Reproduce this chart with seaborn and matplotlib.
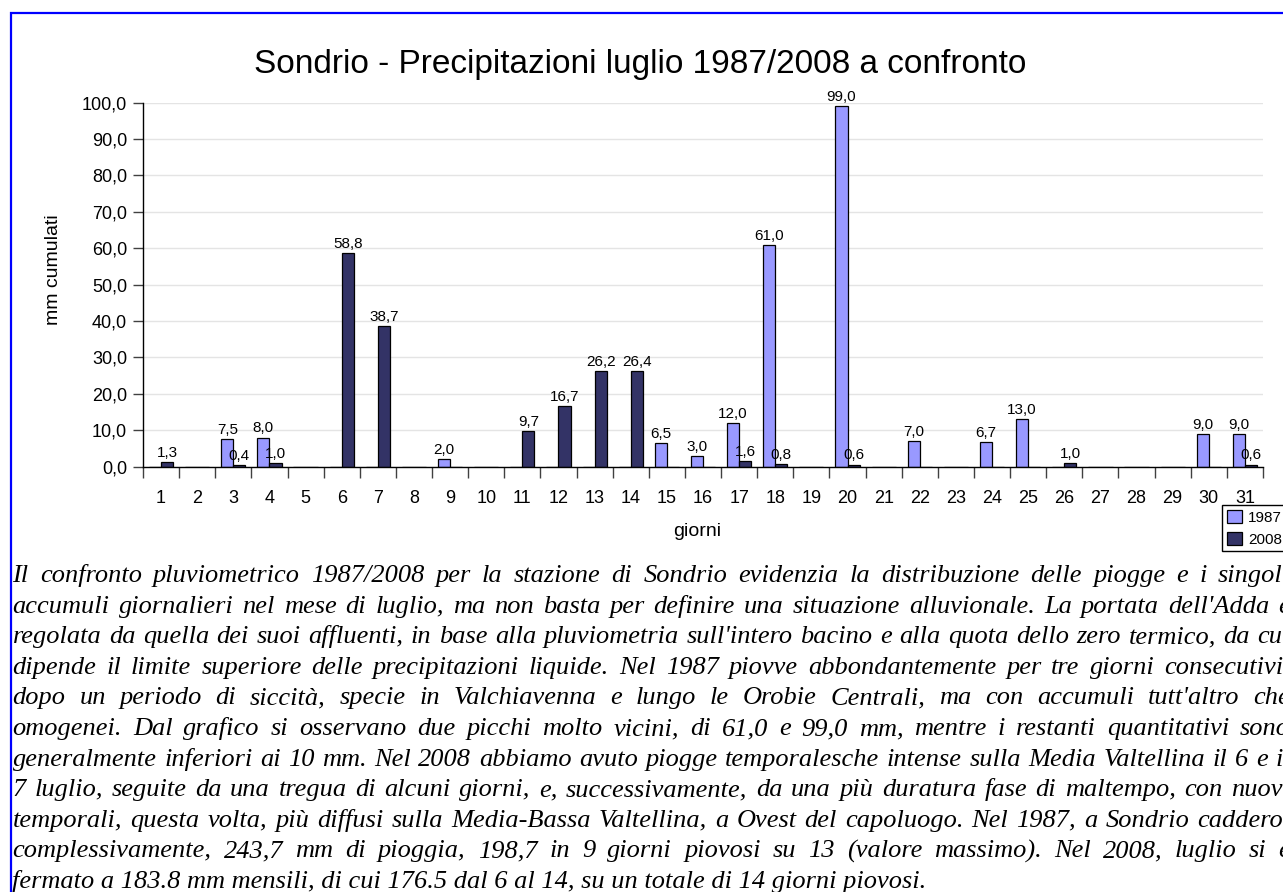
import numpy as np
import pandas as pd
import matplotlib
matplotlib.use('Agg')
import matplotlib.pyplot as plt
import seaborn as sns
from matplotlib.patches import Rectangle, Patch
from matplotlib.ticker import FixedLocator, FuncFormatter

# ---------------- data ----------------
days = list(range(1, 32))
mm_1987 = [0, 0, 7.5, 8.0, 0, 0, 0, 0, 2.0, 0, 0, 0, 0, 0, 6.5, 3.0, 12.0, 61.0, 0, 99.0,
           0, 7.0, 0, 6.7, 13.0, 0, 0, 0, 0, 9.0, 9.0]
mm_2008 = [1.3, 0, 0.4, 1.0, 0, 58.8, 38.7, 0, 0, 0, 9.7, 16.7, 26.2, 26.4, 0, 0, 1.6, 0.8, 0, 0.6,
           0, 0, 0, 0, 0, 1.0, 0, 0, 0, 0, 0.6]
years = ['1987', '2008']
y_ticks = list(range(0, 101, 10))
title = "Sondrio - Precipitazioni luglio 1987/2008 a confronto"
x_label = "giorni"
y_label = "mm cumulati"
paragraph_lines = [
    "Il confronto pluviometrico 1987/2008 per la stazione di Sondrio evidenzia la distribuzione delle piogge e i singoli",
    "accumuli giornalieri nel mese di luglio, ma non basta per definire una situazione alluvionale. La portata dell'Adda è",
    "regolata da quella dei suoi affluenti, in base alla pluviometria sull'intero bacino e alla quota dello zero termico, da cui",
    "dipende il limite superiore delle precipitazioni liquide. Nel 1987 piovve abbondantemente per tre giorni consecutivi,",
    "dopo un periodo di siccità, specie in Valchiavenna e lungo le Orobie Centrali, ma con accumuli tutt'altro che",
    "omogenei. Dal grafico si osservano due picchi molto vicini, di 61,0 e 99,0 mm, mentre i restanti quantitativi sono",
    "generalmente inferiori ai 10 mm. Nel 2008 abbiamo avuto piogge temporalesche intense sulla Media Valtellina il 6 e il",
    "7 luglio, seguite da una tregua di alcuni giorni, e, successivamente, da una più duratura fase di maltempo, con nuovi",
    "temporali, questa volta, più diffusi sulla Media-Bassa Valtellina, a Ovest del capoluogo. Nel 1987, a Sondrio caddero,",
    "complessivamente, 243,7 mm di pioggia, 198,7 in 9 giorni piovosi su 13 (valore massimo). Nel 2008, luglio si è",
    "fermato a 183.8 mm mensili, di cui 176.5 dal 6 al 14, su un totale di 14 giorni piovosi.",
]

# ---------------- style ----------------
sns.set_theme(style='white')
plt.rcParams['font.family'] = ['Liberation Sans', 'DejaVu Sans']
for k in ['text.color', 'axes.labelcolor', 'xtick.color', 'ytick.color']:
    plt.rcParams[k] = 'black'

W, H = 1283, 892
fig = plt.figure(figsize=(W / 100, H / 100), dpi=100)
fig.patch.set_facecolor('white')


def fx(px):
    return px / W


def fy(py):
    return 1 - py / H


ax_left, ax_right, ax_top, ax_bot = 143, 1263, 102.7, 466.7
ax = fig.add_axes([fx(ax_left), fy(ax_bot), (ax_right - ax_left) / W, (ax_bot - ax_top) / H])
ax.set_facecolor('white')

day_labels = [str(d) for d in days]
df = pd.DataFrame({
    'giorno': day_labels * 2,
    'mm': mm_1987 + mm_2008,
    'anno': [years[0]] * len(days) + [years[1]] * len(days),
})
colors = ['#9999FF', '#333366']
sns.barplot(data=df, x='giorno', y='mm', hue='anno', order=day_labels, hue_order=years,
            palette=colors, saturation=1, edgecolor='black', linewidth=0.9, width=0.67,
            errorbar=None, legend=False, ax=ax)

ax.set_xlim(-0.5, len(days) - 0.5)
ax.set_ylim(0, 100)

# bar labels
for cont in ax.containers:
    vals = [r.get_height() for r in cont]
    labs = [(f"{v:.1f}".replace('.', ',') if v > 0 else '') for v in vals]
    ax.bar_label(cont, labels=labs, padding=1.5, fontsize=11, color='black')

# axes styling
for s in ['top', 'right']:
    ax.spines[s].set_visible(False)
for s in ['left', 'bottom']:
    ax.spines[s].set_visible(True)
    ax.spines[s].set_color('black')
    ax.spines[s].set_linewidth(1.0)
ax.set_axisbelow(True)
ax.yaxis.grid(True, color='#e4e4e4', lw=1.0)
ax.xaxis.grid(False)

ax.yaxis.set_major_locator(FixedLocator(y_ticks))
ax.yaxis.set_major_formatter(FuncFormatter(lambda v, p: f"{v:.1f}".replace('.', ',')))
ax.tick_params(axis='y', which='major', left=True, length=7.2, width=1, color='#404040',
               direction='out', labelsize=13, pad=4.3)
ax.set_xticks(range(len(days)))
ax.set_xticklabels(day_labels)
ax.xaxis.set_minor_locator(FixedLocator(np.arange(-0.5, len(days), 1.0)))
ax.tick_params(axis='x', which='major', bottom=True, length=0, labelsize=13, pad=16.5)
ax.tick_params(axis='x', which='minor', bottom=True, length=8, width=1, color='#404040',
               direction='out')

ax.set_xlabel(x_label, fontsize=14)
ax.set_ylabel(y_label, fontsize=14)
ax.xaxis.set_label_coords((697 - ax_left) / (ax_right - ax_left), (ax_bot - 531) / (ax_bot - ax_top))
ax.xaxis.label.set_verticalalignment('center')
ax.yaxis.set_label_coords((53 - ax_left) / (ax_right - ax_left), (ax_bot - 270) / (ax_bot - ax_top))
ax.yaxis.label.set_verticalalignment('center')

# title
fig.text(fx(640), fy(64), title, ha='center', va='center', fontsize=24)

# legend
handles = [Patch(facecolor=c, edgecolor='black', linewidth=0.9) for c in colors]
leg = fig.legend(handles=handles, labels=years, loc='upper left',
                 bbox_to_anchor=(fx(1222), fy(505)), bbox_transform=fig.transFigure,
                 frameon=True, fancybox=False, shadow=False, framealpha=1,
                 edgecolor='black', fontsize=11, handlelength=1.0, handleheight=1.0,
                 handletextpad=0.4, borderpad=0.3, borderaxespad=0, labelspacing=0.45)
leg.get_frame().set_linewidth(1.0)

# blue frame (extends beyond right/bottom edge)
fig.add_artist(Rectangle((fx(11), fy(905)), fx(1300) - fx(11), (905 - 13) / H,
                         transform=fig.transFigure, fill=False, edgecolor='#0000FF',
                         linewidth=1.6, clip_on=False))

# justified paragraph
PF = 19
pfont = dict(fontsize=PF, family='Liberation Serif', style='italic', color='black')
fig.canvas.draw()
renderer = fig.canvas.get_renderer()


def measure(s):
    t = fig.text(0, 0, s, **pfont)
    w = t.get_window_extent(renderer).width
    t.remove()
    return w


space_w = measure('a b') - measure('ab')
L, R = 12.5, 1290
base0, step = 582, 30.6
for i, line in enumerate(paragraph_lines):
    yb = base0 + i * step
    if i == len(paragraph_lines) - 1:
        fig.text(fx(L), fy(yb), line, ha='left', va='baseline', **pfont)
        continue
    words = line.split(' ')
    widths = [measure(w) for w in words]
    gap = (R - L - sum(widths)) / (len(words) - 1)
    gap = max(gap, 0.8 * space_w)
    x = L
    for w, wd in zip(words, widths):
        fig.text(fx(x), fy(yb), w, ha='left', va='baseline', **pfont)
        x += wd + gap

fig.savefig('out.png', dpi=100, facecolor='white')
